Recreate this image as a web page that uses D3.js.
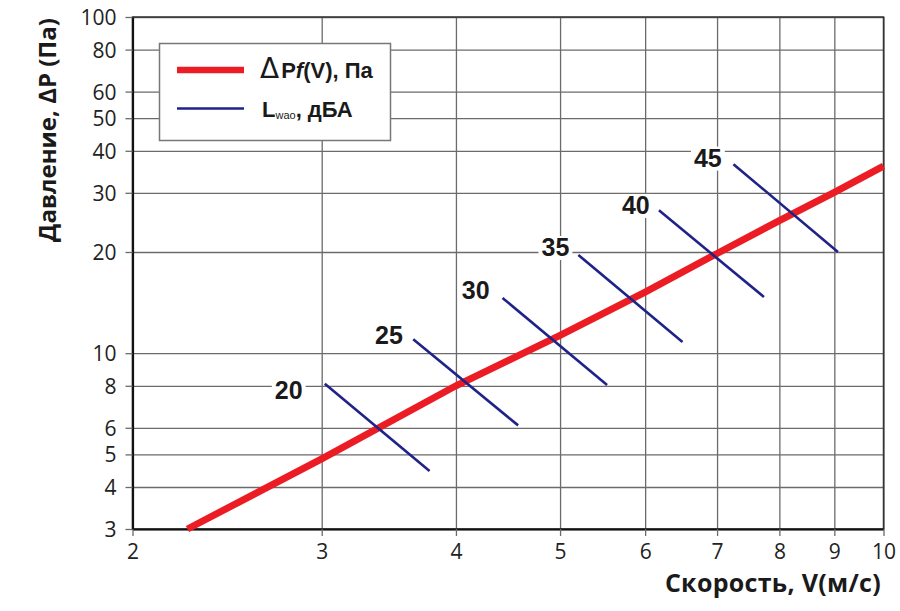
<!DOCTYPE html>
<html>
<head>
<meta charset="utf-8">
<script src="https://cdn.jsdelivr.net/npm/d3@7"></script>
<style>
  body { margin: 0; background: #fff; }
  svg { display: block; }
</style>
</head>
<body>
<svg id="chart" width="900" height="611"></svg>
<script>
// pressure curve ΔP f(V)
var velocity = [2.25, 3, 4, 5, 6, 7, 8, 9, 10];
var pressure = [3.0, 4.85, 8.0, 11.3, 15.2, 19.8, 24.8, 30.1, 36.0];

// noise lines Lwao, dBA
var noiseLevel = [20, 25, 30, 35, 40, 45];
var noiseV1 = [3.02, 3.65, 4.42, 5.20, 6.18, 7.25];
var noiseP1 = [8.11, 11.0, 14.6, 19.6, 26.6, 36.5];
var noiseV2 = [3.78, 4.57, 5.53, 6.50, 7.74, 9.07];
var noiseP2 = [4.46, 6.10, 8.04, 10.8, 14.7, 20.0];
// where the labels sit (bottom-right corner of the number)
var labelV = [2.88, 3.57, 4.30, 5.10, 6.06, 7.07];
var labelP = [7.29, 10.65, 14.5, 19.46, 25.95, 35.9];

var xTicks = [2, 3, 4, 5, 6, 7, 8, 9, 10];
var yTicks = [3, 4, 5, 6, 8, 10, 20, 30, 40, 50, 60, 80, 100];

var svg = d3.select("#chart");

var plotLeft = 132.5, plotRight = 883.5, plotTop = 17, plotBottom = 529;

var x = d3.scaleLog().domain([2, 10]).range([plotLeft, plotRight]);
var y = d3.scaleLog().domain([3, 100]).range([plotBottom, plotTop]);

// grid
svg.append("g")
    .attr("transform", "translate(0," + plotBottom + ")")
    .call(d3.axisBottom(x).tickValues(xTicks).tickSize(-(plotBottom - plotTop)).tickFormat(""))
    .call(function (g) { g.select(".domain").remove(); })
    .selectAll("line").attr("stroke", "#6b6b6b").attr("stroke-width", 1.3);

svg.append("g")
    .attr("transform", "translate(" + plotLeft + ",0)")
    .call(d3.axisLeft(y).tickValues(yTicks).tickSize(-(plotRight - plotLeft)).tickFormat(""))
    .call(function (g) { g.select(".domain").remove(); })
    .selectAll("line").attr("stroke", "#6b6b6b").attr("stroke-width", 1.3);

// frame
svg.append("rect")
    .attr("x", plotLeft).attr("y", plotTop)
    .attr("width", plotRight - plotLeft).attr("height", plotBottom - plotTop)
    .attr("fill", "none").attr("stroke", "#333").attr("stroke-width", 1.5);

// axes with outer ticks and labels
var xAxis = svg.append("g")
    .attr("transform", "translate(0," + plotBottom + ")")
    .call(d3.axisBottom(x).tickValues(xTicks).tickSize(7).tickSizeOuter(0).tickPadding(8).tickFormat(d3.format("d")));
var yAxis = svg.append("g")
    .attr("transform", "translate(" + plotLeft + ",0)")
    .call(d3.axisLeft(y).tickValues(yTicks).tickSize(7).tickSizeOuter(0).tickPadding(9).tickFormat(d3.format("d")));

[xAxis, yAxis].forEach(function (g) {
    g.select(".domain").attr("stroke", "#111").attr("stroke-width", 2.2);
    g.selectAll(".tick line").attr("stroke", "#6b6b6b").attr("stroke-width", 1.3);
    g.selectAll(".tick text")
        .attr("fill", "#222")
        .style("font-family", "'Open Sans', sans-serif")
        .style("font-size", "21px");
});
yAxis.selectAll(".tick text").attr("dy", "0.36em");
xAxis.selectAll(".tick text").attr("dy", "0.72em");

// red pressure line
var line = d3.line()
    .x(function (d) { return x(d[0]); })
    .y(function (d) { return y(d[1]); });

svg.append("path")
    .datum(d3.zip(velocity, pressure))
    .attr("d", line)
    .attr("fill", "none")
    .attr("stroke", "#ec1c24")
    .attr("stroke-width", 7);

// blue noise lines
svg.selectAll(".noise")
    .data(noiseLevel)
    .enter().append("line")
    .attr("class", "noise")
    .attr("x1", function (d, i) { return x(noiseV1[i]); })
    .attr("y1", function (d, i) { return y(noiseP1[i]); })
    .attr("x2", function (d, i) { return x(noiseV2[i]); })
    .attr("y2", function (d, i) { return y(noiseP2[i]); })
    .attr("stroke", "#1f2388")
    .attr("stroke-width", 2.6);

// noise labels with white knock-out boxes
var labels = svg.selectAll(".lbl")
    .data(noiseLevel)
    .enter().append("g")
    .attr("class", "lbl");

labels.append("text")
    .attr("x", function (d, i) { return x(labelV[i]); })
    .attr("y", function (d, i) { return y(labelP[i]); })
    .attr("text-anchor", "end")
    .style("font-family", "'Liberation Sans', Arial, sans-serif")
    .style("font-weight", "bold")
    .style("font-size", "25px")
    .attr("fill", "#1a1a1a")
    .text(function (d) { return d; });

labels.each(function () {
    var g = d3.select(this);
    var b = g.select("text").node().getBBox();
    g.insert("rect", "text")
        .attr("x", b.x - 3).attr("y", b.y + 3)
        .attr("width", b.width + 6).attr("height", b.height - 4)
        .attr("fill", "#fff");
});

// legend
var legend = svg.append("g");
legend.append("rect")
    .attr("x", 159.5).attr("y", 43.5)
    .attr("width", 231).attr("height", 97)
    .attr("fill", "#fff")
    .attr("stroke", "#777")
    .attr("stroke-width", 1.5);

legend.append("line")
    .attr("x1", 177).attr("x2", 244).attr("y1", 70).attr("y2", 70)
    .attr("stroke", "#ec1c24").attr("stroke-width", 6.5);
legend.append("line")
    .attr("x1", 177).attr("x2", 244).attr("y1", 108.5).attr("y2", 108.5)
    .attr("stroke", "#1f2388").attr("stroke-width", 2.6);

var t1 = legend.append("text")
    .attr("x", 260).attr("y", 78)
    .style("font-family", "'Liberation Sans', Arial, sans-serif")
    .style("font-weight", "bold")
    .style("font-size", "22px")
    .attr("fill", "#1a1a1a");
t1.append("tspan").text("Δ").style("font-weight", "normal").style("font-size", "28px").style("font-family", "'DejaVu Sans', sans-serif");
t1.append("tspan").text("P").attr("dx", 2);
t1.append("tspan").text("f").style("font-style", "italic");
t1.append("tspan").text("(V), Па");

var t2 = legend.append("text")
    .attr("x", 262).attr("y", 117)
    .style("font-family", "'Liberation Sans', Arial, sans-serif")
    .style("font-weight", "bold")
    .style("font-size", "22px")
    .attr("fill", "#1a1a1a");
t2.append("tspan").text("L");
t2.append("tspan").text("wao").style("font-size", "11px").style("font-weight", "normal").attr("dy", 2);
t2.append("tspan").text(", дБА").attr("dy", -2);

// axis titles
svg.append("text")
    .attr("x", 881).attr("y", 592)
    .attr("text-anchor", "end")
    .style("font-family", "'Open Sans', sans-serif")
    .style("font-weight", "bold")
    .style("font-size", "25px")
    .style("letter-spacing", "0.3px")
    .attr("fill", "#1a1a1a")
    .text("Скорость, V(м/с)");

svg.append("text")
    .attr("transform", "translate(56,130) rotate(-90)")
    .attr("text-anchor", "middle")
    .style("font-family", "'Open Sans', sans-serif")
    .style("font-weight", "bold")
    .style("font-size", "24px")
    .attr("fill", "#1a1a1a")
    .text("Давление, ∆P (Па)");
</script>
</body>
</html>
